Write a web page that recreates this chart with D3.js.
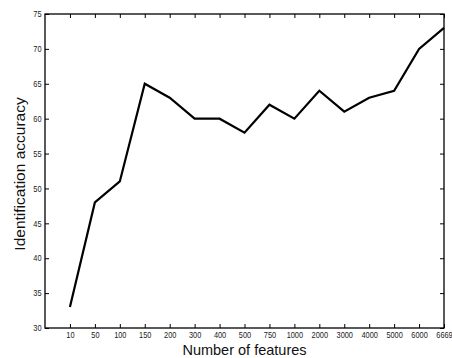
<!DOCTYPE html>
<html>
<head>
<meta charset="utf-8">
<script src="https://cdn.jsdelivr.net/npm/d3@7"></script>
<style>
  html, body { margin: 0; padding: 0; background: #fff; }
  svg { display: block; font-family: "Liberation Sans", Arial, sans-serif; }
</style>
</head>
<body>
<svg id="chart" width="452" height="358"></svg>
<script>
// Number of features tested (x categories)
const featureCounts = ["10", "50", "100", "150", "200", "300", "400", "500", "750",
  "1000", "2000", "3000", "4000", "5000", "6000", "6669"];
// Identification accuracy per feature count
const accuracy = [33, 48, 51, 65, 63, 60, 60, 58, 62, 60, 64, 61, 63, 64, 70, 73];
// Y-axis ticks
const yTicks = [30, 35, 40, 45, 50, 55, 60, 65, 70, 75];

const svg = d3.select("#chart");
const box = { left: 45, right: 444, top: 14, bottom: 328 };
const squeeze = 0.88;   // narrow glyphs for tick labels

// categories sit at positions 1..n, axis spans 0..n
const x = d3.scaleLinear().domain([0, featureCounts.length]).range([box.left, box.right]);
const y = d3.scaleLinear().domain([30, 75]).range([box.bottom, box.top]);
const xIdx = featureCounts.map((_, i) => i + 1);
const fmt = i => featureCounts[i - 1];
const tickLen = 4;

// bottom axis (ticks pointing inward)
const gBottom = svg.append("g").attr("transform", `translate(0,${box.bottom})`)
  .call(d3.axisBottom(x).tickValues(xIdx).tickFormat(fmt).tickSizeInner(-tickLen).tickSizeOuter(0).tickPadding(4));
// top axis, ticks only
const gTop = svg.append("g").attr("transform", `translate(0,${box.top})`)
  .call(d3.axisTop(x).tickValues(xIdx).tickFormat("").tickSizeInner(-tickLen).tickSizeOuter(0));
// left axis
const gLeft = svg.append("g").attr("transform", `translate(${box.left},0)`)
  .call(d3.axisLeft(y).tickValues(yTicks).tickSizeInner(-tickLen).tickSizeOuter(0).tickPadding(4));
// right axis, ticks only
const gRight = svg.append("g").attr("transform", `translate(${box.right},0)`)
  .call(d3.axisRight(y).tickValues(yTicks).tickFormat("").tickSizeInner(-tickLen).tickSizeOuter(0));

[gBottom, gTop, gLeft, gRight].forEach(g => {
  g.select(".domain").remove();
  g.selectAll("line").attr("stroke", "#000").attr("stroke-width", 1);
  g.selectAll("text").attr("font-size", 8.4).attr("fill", "#222")
    .attr("font-family", "Liberation Sans, Arial, sans-serif");
});
gBottom.selectAll("text").attr("transform", `scale(${squeeze},1)`);
gLeft.selectAll("text").attr("x", -3.5 / squeeze).attr("transform", `scale(${squeeze},1)`);

// frame
svg.append("rect")
  .attr("x", box.left).attr("y", box.top)
  .attr("width", box.right - box.left).attr("height", box.bottom - box.top)
  .attr("fill", "none").attr("stroke", "#000").attr("stroke-width", 1.3);

// accuracy line
const line = d3.line().x((d, i) => x(xIdx[i])).y(d => y(d));
svg.append("path").datum(accuracy)
  .attr("d", line)
  .attr("fill", "none").attr("stroke", "#000").attr("stroke-width", 2.2)
  .attr("stroke-linejoin", "miter");

// axis titles
svg.append("text")
  .attr("x", (box.left + box.right) / 2).attr("y", 355)
  .attr("text-anchor", "middle").attr("font-size", 14.5).attr("fill", "#111")
  .text("Number of features");
svg.append("text")
  .attr("transform", `translate(25,174) rotate(-90)`)
  .attr("text-anchor", "middle").attr("font-size", 15.5).attr("fill", "#111")
  .text("Identification accuracy");
</script>
</body>
</html>
